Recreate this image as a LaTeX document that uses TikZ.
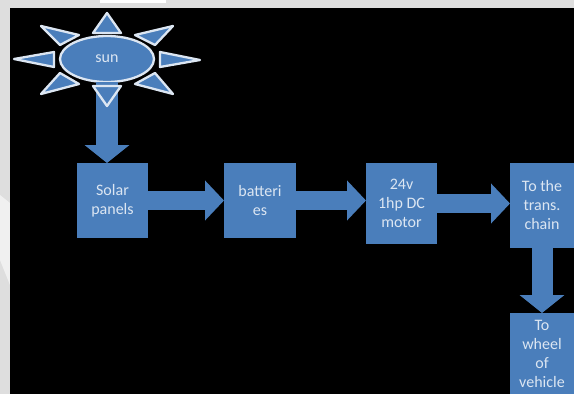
\documentclass[tikz,border=0pt]{standalone}
\usepackage{fontspec}
\setmainfont{Carlito}
\usetikzlibrary{shapes.geometric,arrows.meta}
\definecolor{boxblue}{HTML}{4A7EBB}
\definecolor{txt}{HTML}{DCE6F2}
\tikzset{
 block/.style={draw=none,fill=boxblue,text=txt,align=center,outer sep=0pt,inner sep=0pt,font=\fontsize{16}{19}\selectfont},
 ray/.style={draw=txt,fill=boxblue,line width=2.3pt,line join=round},
 bigarrow/.style={draw=boxblue,line width=#1,-{Triangle[width=39pt,length=19pt]}},
 bigarrow/.default=19pt,
 downarrow/.style={draw=boxblue,line width=#1,-{Triangle[width=44pt,length=18pt]}}
}
\begin{document}
\begin{tikzpicture}[x=1pt,y=-1pt]
\useasboundingbox (0,0) rectangle (574,394);
\fill[black!13] (0,0) rectangle (574,394);
\fill[black!6] (0,195) -- (10,203) -- (10,285) -- (0,260) -- cycle;
\fill[white] (100,0) rectangle (166,3);
\fill[black] (10,8) rectangle (574,394);
\node[block,minimum width=71pt,minimum height=75pt] (solar) at (112.5,200.5) {Solar\\panels};
\node[block,minimum width=72pt,minimum height=75pt] (batt) at (260,200.5) {batteri\\es};
\node[block,minimum width=71pt,minimum height=81pt] (motor) at (401.5,203.5) {24v\\1hp DC\\motor};
\node[block,minimum width=64pt,minimum height=85pt] (trans) at (542,205.5) {To the\\trans.\\chain};
\node[block,minimum width=64pt,minimum height=81pt] (wheel) at (542,353.5) {To\\wheel\\of\\vehicle};
\node[block,ellipse,draw=txt,line width=2.3pt,minimum width=94pt,minimum height=46pt] (sun) at (107,59) {sun};
\draw[downarrow=22pt] (sun.south) -- (sun.south |- solar.north);
\draw[bigarrow] (solar.east) -- (batt.west);
\draw[bigarrow] (batt.east) -- (motor.west |- batt.east);
\draw[bigarrow] (motor.east) -- (trans.west |- motor.east);
\draw[downarrow=21pt] (trans.south) -- (wheel.north);
\draw[ray] (107,13) -- (93,33) -- (121,33) -- cycle;
\draw[ray] (93,86) -- (121,86) -- (107,106) -- cycle;
\draw[ray] (14,59) -- (54,52) -- (54,67) -- cycle;
\draw[ray] (200,60) -- (160,52) -- (160,67) -- cycle;
\draw[ray] (41,26) -- (79,35) -- (60,45) -- cycle;
\draw[ray] (173,26) -- (135,35) -- (155,45) -- cycle;
\draw[ray] (41,94) -- (79,84) -- (60,73) -- cycle;
\draw[ray] (173,94) -- (135,84) -- (155,73) -- cycle;
\end{tikzpicture}
\end{document}
